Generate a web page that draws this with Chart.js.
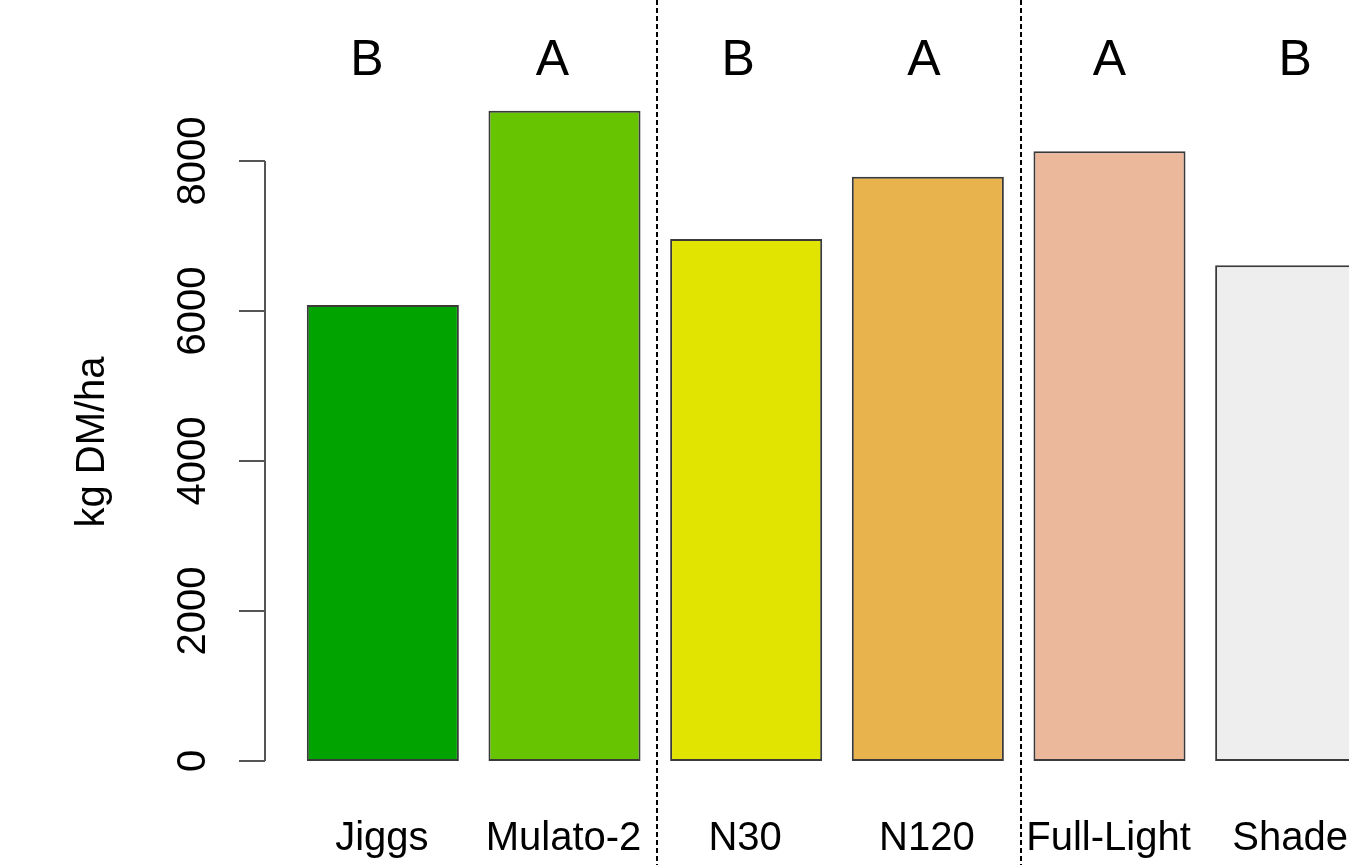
<!DOCTYPE html>
<html>
<head>
<meta charset="utf-8">
<script src="https://cdn.jsdelivr.net/npm/chart.js@4"></script>
<style>
  html, body { margin: 0; padding: 0; background: #fff; overflow: hidden; }
  #wrap { width: 1349px; height: 865px; overflow: hidden; }
</style>
</head>
<body>
<div id="wrap"><canvas id="chart" width="1400" height="865"></canvas></div>
<script>
const categories = ["Jiggs", "Mulato-2", "N30", "N120", "Full-Light", "Shade"];
const yieldValues = [6080, 8670, 6960, 7790, 8130, 6610];
const letters = ["B", "A", "B", "A", "A", "B"];
const barColors = ["#00A300", "#66C500", "#E1E300", "#E8B24C", "#ECB89C", "#EEEEEE"];
const yTicks = [0, 2000, 4000, 6000, 8000];
const groupBreaks = [1.5, 3.5]; // dashed lines between factor groups
const yTitle = "kg DM/ha";

const FONT = '"Liberation Sans", Arial, Helvetica, sans-serif';

// draws the R-style axis, labels, letters and dashed separators
const decorations = {
  id: "decorations",
  afterDatasetsDraw(chart) {
    const ctx = chart.ctx;
    const x = chart.scales.x;
    const y = chart.scales.y;
    ctx.save();

    // y axis
    const axisX = 265;
    ctx.strokeStyle = "#555";
    ctx.lineWidth = 2;
    ctx.beginPath();
    ctx.moveTo(axisX, y.getPixelForValue(yTicks[0]));
    ctx.lineTo(axisX, y.getPixelForValue(yTicks[yTicks.length - 1]));
    yTicks.forEach((t) => {
      const py = y.getPixelForValue(t);
      ctx.moveTo(axisX, py);
      ctx.lineTo(239, py);
    });
    ctx.stroke();

    ctx.fillStyle = "#000";
    ctx.font = "40px " + FONT;
    ctx.textAlign = "center";
    ctx.textBaseline = "alphabetic";
    yTicks.forEach((t) => {
      ctx.save();
      ctx.translate(205, y.getPixelForValue(t));
      ctx.rotate(-Math.PI / 2);
      ctx.fillText(String(t), 0, 0);
      ctx.restore();
    });

    // y title
    ctx.save();
    ctx.translate(104, 442);
    ctx.rotate(-Math.PI / 2);
    ctx.fillText(yTitle, 0, 0);
    ctx.restore();

    // category labels
    categories.forEach((c, i) => {
      ctx.fillText(c, x.getPixelForValue(i) - 1, 850);
    });

    // significance letters
    ctx.font = "50px " + FONT;
    ctx.textBaseline = "middle";
    letters.forEach((l, i) => {
      ctx.fillText(l, x.getPixelForValue(i) + (i - 4) * 4, 61);
    });

    // dashed separators
    ctx.strokeStyle = "#000";
    ctx.lineWidth = 2;
    ctx.setLineDash([5, 3]);
    groupBreaks.forEach((b) => {
      const px = Math.round(x.getPixelForValue(b)) + 2;
      ctx.beginPath();
      ctx.moveTo(px, 0);
      ctx.lineTo(px, 865);
      ctx.stroke();
    });
    ctx.restore();
  },
};

new Chart(document.getElementById("chart"), {
  type: "bar",
  data: {
    labels: categories,
    datasets: [
      {
        data: yieldValues,
        backgroundColor: barColors,
        borderColor: "#3a3a3a",
        borderWidth: 2,
        borderSkipped: false,
        barPercentage: 0.837,
        categoryPercentage: 1,
      },
    ],
  },
  options: {
    responsive: false,
    animation: false,
    layout: { padding: { left: 292, right: 18, top: 86, bottom: 104 } },
    plugins: { legend: { display: false }, tooltip: { enabled: false } },
    scales: {
      x: { display: false },
      y: { display: false, min: 0, max: 9000 },
    },
  },
  plugins: [decorations],
});
</script>
</body>
</html>
